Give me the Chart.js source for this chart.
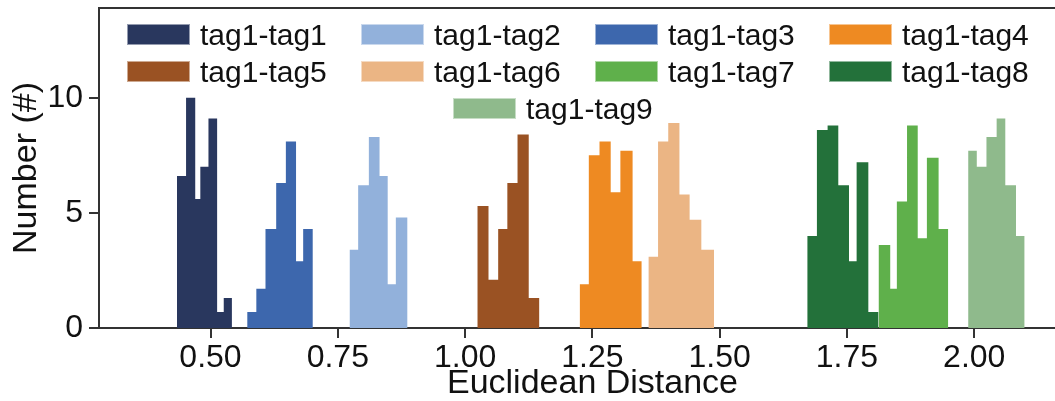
<!DOCTYPE html>
<html>
<head>
  <meta charset="utf-8">
  <title>euclidean distance</title>
  <script src="https://cdn.jsdelivr.net/npm/chart.js@4.4.0/dist/chart.umd.min.js"></script>
  <style>
    body { margin: 0; overflow: hidden; background: #fff; }
    #wrap { position: relative; width: 1055px; height: 401px; overflow: hidden; }
    #legend { position: absolute; left: 0; top: 0; font-family: "Liberation Sans", Arial, sans-serif; font-size: 30px; color: #111; }
    .item { position: absolute; display: flex; align-items: center; height: 21px; white-space: nowrap; }
    .box { width: 63px; height: 21px; margin-right: 10px; box-sizing: border-box; border: 1px solid rgba(255,255,255,0.5); }
  </style>
</head>
<body>
  <div id="wrap">
    <canvas id="chart" width="1086" height="401"></canvas>
    <div id="legend"></div>
  </div>
  <script>
  const labels = ['tag1-tag1', 'tag1-tag2', 'tag1-tag3', 'tag1-tag4', 'tag1-tag5',
                  'tag1-tag6', 'tag1-tag7', 'tag1-tag8', 'tag1-tag9'];
  const colors = ['#29375e', '#92b1db', '#3d67ad', '#ee8a22', '#9a5223',
                  '#ebb584', '#5fb04b', '#23713a', '#8fba8c'];

  // bin edges + heights
  const edges1 = [0.434, 0.452, 0.470, 0.480, 0.496, 0.513, 0.526, 0.542];
  const counts1 = [6.6, 10.0, 5.6, 7.0, 9.1, 0.7, 1.3];
  const edges2 = [0.773, 0.790, 0.811, 0.832, 0.848, 0.864, 0.887];
  const counts2 = [3.4, 6.2, 8.3, 6.6, 1.9, 4.8];
  const edges3 = [0.572, 0.590, 0.608, 0.629, 0.648, 0.668, 0.682, 0.701];
  const counts3 = [0.7, 1.7, 4.3, 6.3, 8.1, 2.9, 4.3];
  const edges4 = [1.225, 1.243, 1.264, 1.286, 1.305, 1.329, 1.347];
  const counts4 = [1.9, 7.5, 8.1, 5.9, 7.7, 2.9];
  const edges5 = [1.024, 1.046, 1.065, 1.083, 1.103, 1.125, 1.146];
  const counts5 = [5.3, 2.1, 4.3, 6.3, 8.4, 1.3];
  const edges6 = [1.360, 1.379, 1.399, 1.421, 1.441, 1.464, 1.489];
  const counts6 = [3.1, 8.1, 8.9, 5.8, 4.7, 3.4];
  const edges7 = [1.812, 1.835, 1.848, 1.868, 1.889, 1.907, 1.930, 1.949];
  const counts7 = [3.6, 1.7, 5.5, 8.8, 3.9, 7.4, 4.3];
  const edges8 = [1.672, 1.691, 1.712, 1.733, 1.754, 1.769, 1.792, 1.812];
  const counts8 = [4.0, 8.6, 8.8, 6.2, 2.9, 7.2, 0.7];
  const edges9 = [1.988, 2.005, 2.024, 2.044, 2.061, 2.082, 2.099];
  const counts9 = [7.7, 7.0, 8.3, 9.1, 6.2, 4.0];

  const xTicks = [0.50, 0.75, 1.00, 1.25, 1.50, 1.75, 2.00];
  const yTicks = [0, 5, 10];

  const allEdges = [edges1, edges2, edges3, edges4, edges5, edges6, edges7, edges8, edges9];
  const allCounts = [counts1, counts2, counts3, counts4, counts5, counts6, counts7, counts8, counts9];

  // step outline: each bin starts at its left edge, closing point drops to 0
  function histPoints(edges, counts){
    const pts = counts.map((c, i) => ({x: edges[i], y: c}));
    pts.push({x: edges[edges.length - 1], y: 0});
    return pts;
  }

  const datasets = labels.map((label, i) => ({
    label: label,
    data: histPoints(allEdges[i], allCounts[i]),
    stepped: true,
    fill: 'origin',
    backgroundColor: colors[i],
    borderColor: colors[i],
    borderWidth: 0,
    pointRadius: 0,
    order: 9 - i,
  }));

  const tickFont = {family: '"Liberation Sans", Arial, sans-serif', size: 32};
  const titleFont = {family: '"Liberation Sans", Arial, sans-serif', size: 34, lineHeight: 1};

  // keep the plot box fixed: no extra room for overhanging labels
  function noPad(s){
    s.paddingTop = 0; s.paddingBottom = 0;
    s.paddingLeft = 0; s.paddingRight = 0;
  }

  const myChart = new Chart(document.getElementById('chart'), {
    type: 'line',
    data: {datasets: datasets},
    options: {
      responsive: false,
      animation: false,
      layout: {padding: 0},
      plugins: {
        legend: {display: false},
        tooltip: {enabled: false},
      },
      scales: {
        x: {
          type: 'linear',
          min: 0.281,
          max: 2.2195,
          afterBuildTicks: s => { s.ticks = xTicks.map(v => ({value: v})); },
          afterFit: s => { s.height = 73; noPad(s); },
          ticks: {
            callback: v => v.toFixed(2),
            font: tickFont, color: '#111', padding: 1,
            autoSkip: false, maxRotation: 0,
          },
          grid: {drawOnChartArea: false, color: '#333', lineWidth: 2, tickLength: 10},
          border: {color: '#333', width: 2},
          title: {display: true, text: 'Euclidean Distance', font: titleFont, color: '#111', padding: 0},
        },
        xTop: {
          type: 'linear',
          position: 'top',
          min: 0.281,
          max: 2.2195,
          afterFit: s => { s.height = 8; noPad(s); },
          ticks: {display: false},
          grid: {drawOnChartArea: false, drawTicks: false},
          border: {color: '#333', width: 2},
        },
        y: {
          min: 0,
          max: 13.9,
          afterBuildTicks: s => { s.ticks = yTicks.map(v => ({value: v})); },
          afterFit: s => { s.width = 99; noPad(s); },
          ticks: {font: tickFont, color: '#111', padding: 6},
          grid: {drawOnChartArea: false, color: '#333', lineWidth: 2, tickLength: 10},
          border: {color: '#333', width: 2},
          title: {display: true, text: 'Number (#)', font: titleFont, color: '#111', padding: {top: 10}},
        },
      },
    },
  });

  // legend: 4 columns, last entry sits alone in the third row
  const legendEl = document.getElementById('legend');
  labels.forEach(function(label, i){
    const item = document.createElement('div');
    item.className = 'item';
    let left = 127 + (i % 4) * 234;
    if (i === 8) left = 453;
    item.style.left = left + 'px';
    item.style.top = (24 + Math.floor(i / 4) * 37) + 'px';
    const box = document.createElement('span');
    box.className = 'box';
    box.style.background = colors[i];
    const txt = document.createElement('span');
    txt.textContent = label;
    item.appendChild(box);
    item.appendChild(txt);
    legendEl.appendChild(item);
  });
  </script>
</body>
</html>
